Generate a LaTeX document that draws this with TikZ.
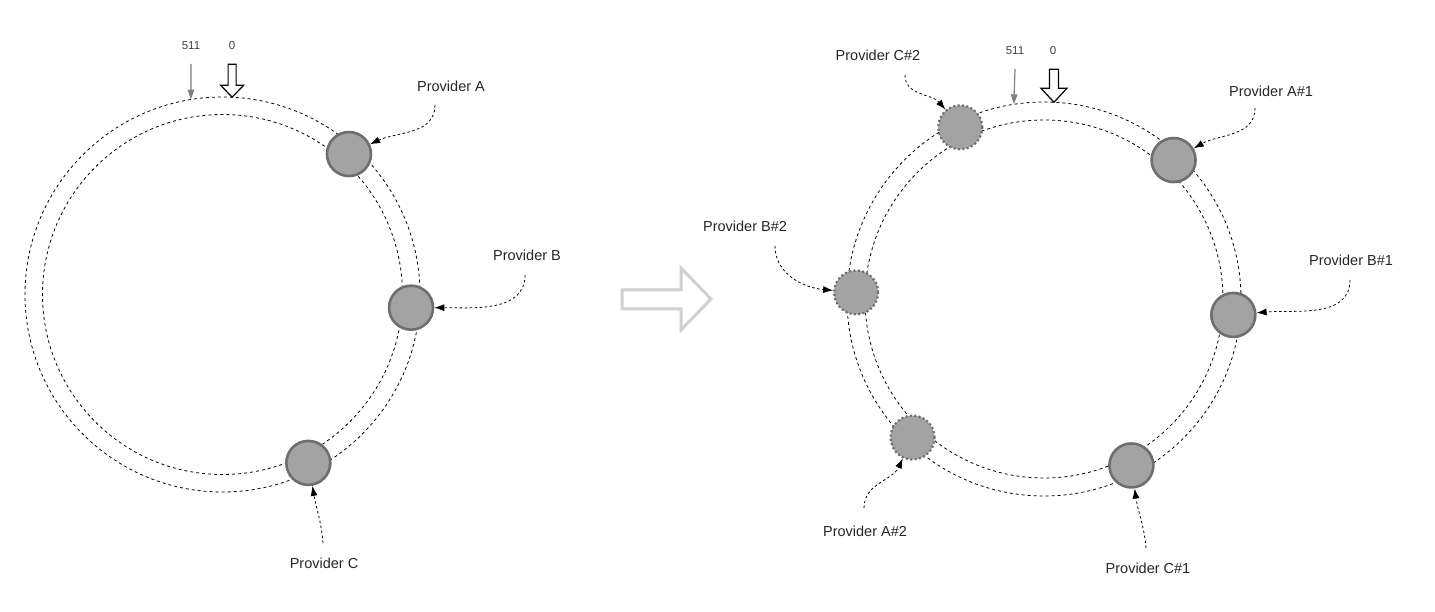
\documentclass[tikz,border=0pt]{standalone}
\usepackage{fontspec}
\setmainfont{Liberation Sans}
\usetikzlibrary{arrows.meta,calc}
\definecolor{peerfill}{HTML}{A3A3A3}
\definecolor{peeredge}{HTML}{6E6E6E}
\definecolor{bigarrow}{HTML}{D0D0D0}

\begin{document}
\begin{tikzpicture}[x=1pt,y=1pt,
    peer/.style={shape=circle, draw=peeredge, fill=peerfill, line width=2.6pt, minimum size=44pt, inner sep=0pt},
    vpeer/.style={shape=circle, draw=peeredge, fill=peerfill, line width=2.2pt, dash pattern=on 2pt off 2.4pt, minimum size=44pt, inner sep=0pt},
    ring/.style={dash pattern=on 3pt off 3pt, line width=0.8pt},
    lbl/.style={font=\fontsize{14.5}{17}\selectfont, text=black!85},
    numlbl/.style={font=\fontsize{11.5}{13}\selectfont, text=black!75},
    link/.style={dash pattern=on 2.5pt off 2.5pt, line width=0.8pt, -{Latex[length=10pt,width=7pt]}},
    ptr/.style={draw=black!50, line width=1.2pt, -{Triangle[length=10pt,width=6.5pt]}},
    fat/.style={draw=black, line width=1.2pt, fill=white}]

\useasboundingbox (0,0) rectangle (1435,-612);

% left ring
\coordinate (lc) at (222.5,-294.5);
\draw[ring] (lc) circle (197.5);
\draw[ring] (lc) circle (180);

\node[peer] (pa) at ($(lc)+(48:189)$) {};
\node[peer] (pb) at ($(lc)+(-4:189)$) {};
\node[peer] (pc) at ($(lc)+(-63:189)$) {};

\node[lbl] (la) at (451,-86) {Provider A};
\node[lbl] (lb) at (527,-255) {Provider B};
\node[lbl] (lcl) at (324,-563) {Provider C};

\draw[link] ($(la)+(-16,-19)$) to[out=-90,in=25] (pa);
\draw[link] ($(lb)+(-2,-20)$) to[out=-90,in=0] (pb);
\draw[link] ($(lcl)+(-1,20)$) to[out=95,in=-80] (pc);

\node[numlbl] (n511l) at (191,-46) {511};
\node[numlbl] (n0l) at (232,-46) {0};
\coordinate (t511l) at ($(lc)+(99.2:197.5)$);
\coordinate (t0l) at ($(lc)+(87.2:197.5)$);
\draw[ptr] ($(n511l)+(0,-18)$) -- (t511l);
\draw[fat] (t0l) -- ++(-11.5,12) -- ++(7.5,0) -- ++(0,21) -- ++(8,0) -- ++(0,-21) -- ++(7.5,0) -- cycle;

% middle arrow
\draw[draw=bigarrow, line width=3pt] (622,-290) -- (681,-290) -- (681,-268) -- (711,-299)
    -- (681,-330) -- (681,-309) -- (622,-309) -- cycle;

% right ring
\coordinate (rc) at (1044,-299);
\draw[ring] (rc) circle (197);
\draw[ring] (rc) circle (179);

\node[peer] (pa1) at ($(rc)+(47:190)$) {};
\node[peer] (pb1) at ($(rc)+(-4.8:190)$) {};
\node[peer] (pc1) at ($(rc)+(-62.3:188)$) {};
\node[vpeer] (pc2) at ($(rc)+(116:191)$) {};
\node[vpeer] (pb2) at ($(rc)+(178:188)$) {};
\node[vpeer] (pa2) at ($(rc)+(-133.5:191)$) {};

\node[lbl] (la1) at (1271,-91) {Provider A\#1};
\node[lbl] (lb1) at (1351,-260) {Provider B\#1};
\node[lbl] (lc1) at (1148,-568) {Provider C\#1};
\node[lbl] (lc2) at (878,-55) {Provider C\#2};
\node[lbl] (lb2) at (745,-226) {Provider B\#2};
\node[lbl] (la2) at (865,-531) {Provider A\#2};

\draw[link] ($(la1)+(-16,-17)$) to[out=-90,in=30] (pa1);
\draw[link] ($(lb1)+(-1,-20)$) to[out=-90,in=5] (pb1);
\draw[link] ($(lc1)+(-2,20)$) to[out=95,in=-82] (pc1);
\draw[link] ($(lc2)+(27,-20)$) to[out=-90,in=130] (pc2);
\draw[link] ($(lb2)+(30,-20)$) to[out=-90,in=175] (pb2);
\draw[link] ($(la2)+(-1,23)$) to[out=90,in=-115] (pa2);

\node[numlbl] (n511r) at (1015,-51) {511};
\node[numlbl] (n0r) at (1053,-51) {0};
\coordinate (t511r) at ($(rc)+(98.8:197)$);
\coordinate (t0r) at ($(rc)+(87.1:197)$);
\draw[ptr] ($(n511r)+(0,-18)$) -- (t511r);
\draw[fat] (t0r) -- ++(-13,14) -- ++(8.5,0) -- ++(0,19) -- ++(9,0) -- ++(0,-19) -- ++(8.5,0) -- cycle;
\end{tikzpicture}
\end{document}
